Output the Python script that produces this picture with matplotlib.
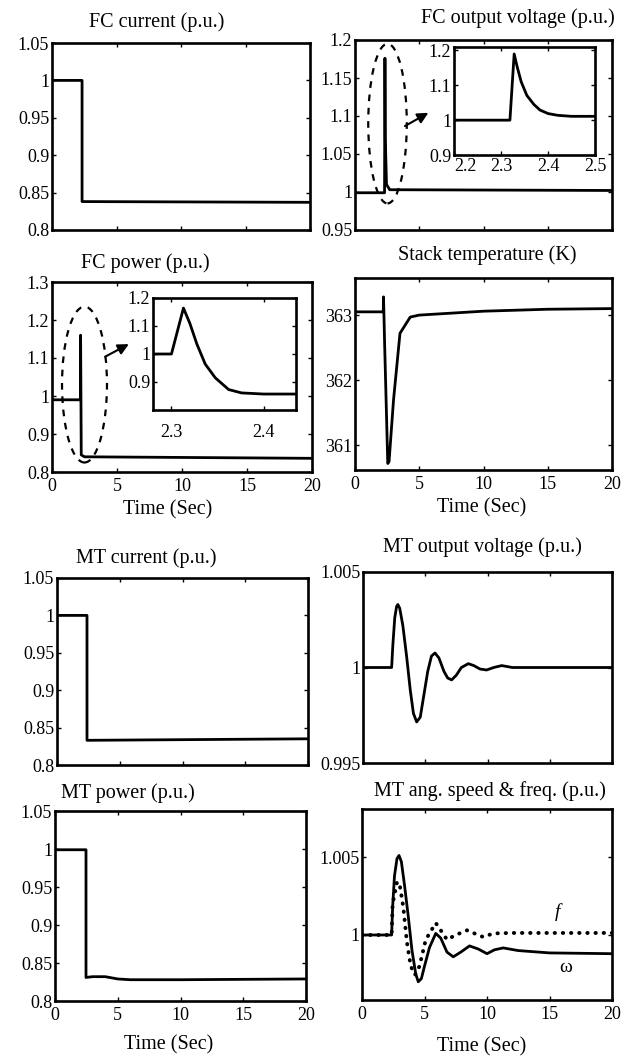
import matplotlib
matplotlib.use('Agg')
import matplotlib.pyplot as plt
from matplotlib.patches import Ellipse
from matplotlib.ticker import FuncFormatter

W, H = 626, 1061   # figure size in pixels (dpi 100)

# ---- FC data ----
fc_i_t = [0, 2.33, 2.33, 20]
fc_i = [1.0, 1.0, 0.838, 0.837]

fc_v_t = [0, 2.3, 2.33, 2.36, 2.45, 2.7, 20]
fc_v = [0.999, 0.999, 1.176, 1.07, 1.01, 1.003, 1.002]
zoom_v_t = [2.2, 2.319, 2.328, 2.335, 2.343, 2.355, 2.37, 2.383, 2.40, 2.42,
            2.45, 2.5]
zoom_v = [1.0, 1.0, 1.19, 1.15, 1.11, 1.071, 1.045, 1.029, 1.019, 1.014,
          1.011, 1.011]

fc_p_t = [0, 2.2, 2.2, 2.25, 2.5, 20]
fc_p = [0.99, 0.99, 1.16, 0.845, 0.84, 0.836]
zoom_p_t = [2.28, 2.300, 2.313, 2.320, 2.3275, 2.3366, 2.3475, 2.362, 2.376,
            2.40, 2.435]
zoom_p = [1.0, 1.0, 1.164, 1.109, 1.036, 0.964, 0.915, 0.873, 0.861, 0.857,
          0.857]

stack_t = [0, 2.2, 2.22, 2.3, 2.55, 2.65, 3.0, 3.5, 4.3, 5.0, 10, 15, 20]
stack_T = [363.05, 363.05, 363.28, 362.6, 360.72, 360.75, 361.7, 362.72,
           362.97, 363.0, 363.06, 363.09, 363.1]

# ---- MT data ----
mt_i_t = [0, 2.39, 2.39, 20]
mt_i = [1.0, 1.0, 0.833, 0.835]

mt_v_t = [0, 2.3, 2.4, 2.55, 2.7, 2.8, 2.95, 3.2, 3.5, 3.8, 4.05, 4.31, 4.6,
          4.9, 5.2, 5.5, 5.78, 6.1, 6.5, 6.8, 7.12, 7.5, 7.9, 8.46, 8.9, 9.4,
          9.93, 10.5, 11.14, 12, 20]
mt_v = [1.0, 1.0, 1.0012, 1.0026, 1.0032, 1.0033, 1.0031, 1.0022, 1.0006,
        0.9988, 0.9976, 0.99715, 0.9974, 0.9986, 0.9998, 1.0006, 1.00076,
        1.0005, 0.9998, 0.99945, 0.99935, 0.9996, 1.0, 1.0002, 1.0001,
        0.99992, 0.99987, 1.0, 1.0001, 1.0, 1.0]

mt_p_t = [0, 2.47, 2.47, 3, 4, 5, 6, 10, 20]
mt_p = [0.999, 0.999, 0.831, 0.832, 0.832, 0.829, 0.828, 0.828, 0.829]

omega_t = [0, 2.37, 2.45, 2.6, 2.8, 2.96, 3.15, 3.4, 3.7, 4.0, 4.3, 4.5,
           4.75, 5.0, 5.4, 5.9, 6.3, 6.8, 7.3, 7.9, 8.6, 9.3, 10, 10.6, 11.3,
           12.5, 15, 20]
omega = [1.0, 1.0, 1.0018, 1.0038, 1.0049, 1.0051, 1.0047, 1.0032, 1.0012,
         0.999, 0.9975, 0.997, 0.9972, 0.998, 0.9992, 1.0001, 0.9998, 0.9989,
         0.9986, 0.9989, 0.9993, 0.9991, 0.9988, 0.99905, 0.99917, 0.999,
         0.99885, 0.9988]

freq_t = [0, 2.37, 2.45, 2.8, 3.0, 3.3, 3.6, 3.9, 4.24, 4.6, 5.1, 5.9, 6.3,
          6.8, 7.5, 8.4, 9.0, 9.7, 10.5, 12, 20]
freq = [1.0, 1.0, 1.002, 1.0034, 1.0033, 1.0018, 0.9995, 0.998, 0.99744,
        0.998, 0.9997, 1.00077, 1.0003, 0.9997, 1.0, 1.0003, 1.0001, 0.99987,
        1.0001, 1.00013, 1.00013]

time_ticks = [0, 5, 10, 15, 20]

plt.rcParams['font.family'] = ['Liberation Serif', 'DejaVu Serif']
TICK = 13
TITLE = 14.5
LW = 2.0

fig = plt.figure(figsize=(W / 100, H / 100), dpi=100)


def box(l, t, r, b, spine=1.9):
    # axes from pixel edges (left, top, right, bottom)
    ax = fig.add_axes([l / W, 1 - b / H, (r - l) / W, (b - t) / H])
    for s in ax.spines.values():
        s.set_linewidth(spine)
    ax.tick_params(direction='in', length=3, width=1, top=True, right=True,
                   labelsize=TICK, pad=2)
    ax.tick_params(axis='x', pad=4)
    ax.yaxis.set_major_formatter(FuncFormatter(lambda v, p: '%g' % v))
    ax.xaxis.set_major_formatter(FuncFormatter(lambda v, p: '%g' % v))
    return ax


def label(x, y, s, size=TITLE):
    fig.text(x / W, 1 - y / H, s, ha='center', va='center', fontsize=size)


def time_axis(ax, show):
    ax.set_xlim(0, 20)
    ax.set_xticks(time_ticks)
    if not show:
        ax.set_xticklabels([])


# FC current
ax1 = box(52, 43, 310, 230)
ax1.plot(fc_i_t, fc_i, 'k', lw=LW)
time_axis(ax1, False)
ax1.set_ylim(0.8, 1.05)
ax1.set_yticks([0.8, 0.85, 0.9, 0.95, 1, 1.05])
label(157, 22, 'FC current (p.u.)')

# FC output voltage
ax2 = box(355, 40, 612, 230)
ax2.plot(fc_v_t, fc_v, 'k', lw=LW)
time_axis(ax2, False)
ax2.set_ylim(0.95, 1.2)
ax2.set_yticks([0.95, 1, 1.05, 1.1, 1.15, 1.2])
ax2.add_patch(Ellipse((2.53, 1.09), 3.0, 0.21, fill=False, ls=(0, (3, 3)),
                      lw=1.6))
ax2.annotate('', xy=(5.9, 1.106), xytext=(3.7, 1.085),
             arrowprops=dict(arrowstyle='-|>', lw=1.5, color='k',
                             mutation_scale=16))
label(518, 18, 'FC output voltage (p.u.)')

in2 = box(454, 47, 595, 155)
in2.plot(zoom_v_t, zoom_v, 'k', lw=LW)
in2.set_xlim(2.2, 2.5)
in2.set_ylim(0.9, 1.21)
in2.set_xticks([2.2, 2.3, 2.4, 2.5])
in2.set_yticks([0.9, 1, 1.1, 1.2])
in2.tick_params(axis='x', pad=2)
in2.get_xticklabels()[0].set_horizontalalignment('left')

# FC power
ax3 = box(52, 282, 312, 472)
ax3.plot(fc_p_t, fc_p, 'k', lw=LW)
time_axis(ax3, True)
ax3.set_ylim(0.8, 1.3)
ax3.set_yticks([0.8, 0.9, 1, 1.1, 1.2, 1.3])
ax3.add_patch(Ellipse((2.5, 1.03), 3.46, 0.41, fill=False, ls=(0, (3, 3)),
                      lw=1.6))
ax3.annotate('', xy=(6.1, 1.14), xytext=(3.9, 1.1),
             arrowprops=dict(arrowstyle='-|>', lw=1.5, color='k',
                             mutation_scale=16))
label(145, 263, 'FC power (p.u.)')
label(168, 510, 'Time (Sec)')

in3 = box(153, 298, 296, 410)
in3.plot(zoom_p_t, zoom_p, 'k', lw=LW)
in3.set_xlim(2.28, 2.435)
in3.set_ylim(0.8, 1.2)
in3.set_xticks([2.3, 2.4])
in3.set_yticks([0.9, 1, 1.1, 1.2])
in3.tick_params(axis='x', pad=10)

# Stack temperature
ax4 = box(355, 278, 612, 470)
ax4.plot(stack_t, stack_T, 'k', lw=LW)
time_axis(ax4, True)
ax4.set_ylim(360.62, 363.57)
ax4.set_yticks([361, 362, 363])
label(487, 255, 'Stack temperature (K)')
label(482, 508, 'Time (Sec)')

# MT current
ax5 = box(57, 578, 308, 765)
ax5.plot(mt_i_t, mt_i, 'k', lw=LW)
time_axis(ax5, False)
ax5.set_ylim(0.8, 1.05)
ax5.set_yticks([0.8, 0.85, 0.9, 0.95, 1, 1.05])
label(146, 558, 'MT current (p.u.)')

# MT output voltage
ax6 = box(363, 572, 612, 763)
ax6.plot(mt_v_t, mt_v, 'k', lw=LW)
time_axis(ax6, False)
ax6.set_ylim(0.995, 1.005)
ax6.set_yticks([0.995, 1, 1.005])
label(482, 547, 'MT output voltage (p.u.)')

# MT power
ax7 = box(55, 811, 306, 1001)
ax7.plot(mt_p_t, mt_p, 'k', lw=LW)
time_axis(ax7, True)
ax7.set_ylim(0.8, 1.05)
ax7.set_yticks([0.8, 0.85, 0.9, 0.95, 1, 1.05])
label(128, 793, 'MT power (p.u.)')
label(169, 1045, 'Time (Sec)')

# MT angular speed and frequency
ax8 = box(362, 809, 612, 1000)
ax8.plot(omega_t, omega, 'k', lw=LW)
ax8.plot(freq_t, freq, 'k', lw=2.8, ls=(0, (0.1, 2.0)),
         dash_capstyle='round')
time_axis(ax8, True)
ax8.set_ylim(0.99583, 1.00808)
ax8.set_yticks([1, 1.005])
ax8.text(15.6, 1.0015, 'f', style='italic', fontsize=14, ha='center',
         va='center')
ax8.text(16.3, 0.9979, '\u03c9', fontsize=14, ha='center', va='center')
label(490, 791, 'MT ang. speed & freq. (p.u.)')
label(482, 1047, 'Time (Sec)')

fig.savefig('out.png', dpi=100)
